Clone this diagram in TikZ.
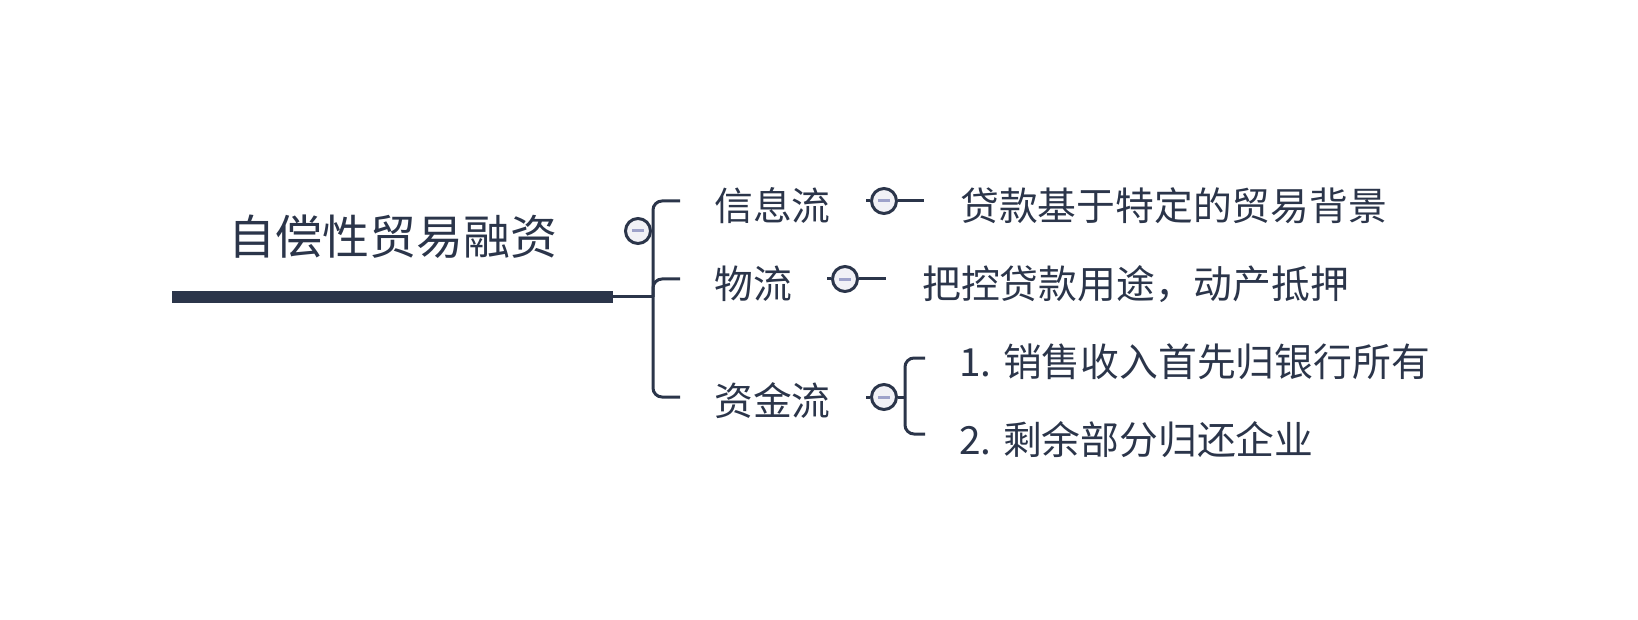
\documentclass[tikz,border=0pt]{standalone}
\usepackage{fontspec}
\newfontfamily\cjk{Noto Sans CJK SC}
\usetikzlibrary{positioning,calc}
\definecolor{MapInk}{HTML}{2B354A}
\definecolor{MapFold}{HTML}{F1F1F6}
\definecolor{MapMinus}{HTML}{9EA2CA}
\newcommand{\foldmark}{{\color{MapMinus}\rule{12pt}{3pt}}}

\tikzset{
  topic/.style={inner sep=0pt, anchor=west, text=MapInk,
    font=\cjk\fontsize{38.8}{42}\selectfont},
  branch/.style={draw=MapInk, line width=3pt, rounded corners=9pt},
  fold/.style={circle, draw=MapInk, line width=3pt, fill=MapFold,
    minimum size=25pt, inner sep=0pt},
}

\begin{document}
\begin{tikzpicture}[x=1pt, y=-1pt]
  \useasboundingbox (0,0) rectangle (1638,620);

  \node[
    inner sep=0pt,
    text=MapInk,
    font=\cjk\fontsize{47}{50}\selectfont
  ] (root) at (393,237) {自偿性贸易融资};
  \node[
    fill=MapInk,
    anchor=west,
    inner sep=0pt,
    minimum width=441pt,
    minimum height=12pt
  ] (bar) at (172,297) {};
  \coordinate (hub) at (653,297);
  \node[fold] (rootfold) at (638,231) {\foldmark};

  \node[topic] (info) at (714,206) {信息流};
  \node[topic] (goods) at (714,284) {物流};
  \node[topic] (fund) at (714,401) {资金流};
  \coordinate (info-in) at (680,201);
  \coordinate (goods-in) at (680,279);
  \coordinate (fund-in) at (680,397);

  \draw[branch] (bar.east) -- (hub);
  \draw[branch] (hub) |- (info-in);
  \draw[branch] (hub) |- (goods-in);
  \draw[branch] (hub) |- (fund-in);

  \node[fold] (infofold) at (884,201) {\foldmark};
  \coordinate (infoleaf-in) at (924,201);
  \node[topic] (infoleaf) at (960,206) {贷款基于特定的贸易背景};
  \draw[branch] (infofold.west) -- ++(-4,0);
  \draw[branch] (infofold.east) -- (infoleaf-in);

  \node[fold] (goodsfold) at (845,279) {\foldmark};
  \coordinate (goodsleaf-in) at (886,279);
  \node[topic] (goodsleaf) at (922,284) {把控贷款用途，动产抵押};
  \draw[branch] (goodsfold.west) -- ++(-4,0);
  \draw[branch] (goodsfold.east) -- (goodsleaf-in);

  \node[fold] (fundfold) at (884,397) {\foldmark};
  \coordinate (fundhub) at (905,397);
  \coordinate (bank-in) at (925,358);
  \coordinate (firm-in) at (925,434);
  \node[topic] (bank) at (959,362) {1. 销售收入首先归银行所有};
  \node[topic] (firm) at (959,440) {2. 剩余部分归还企业};
  \draw[branch] (fundfold.west) -- ++(-4,0);
  \draw[branch] (fundfold.east) -- (fundhub);
  \draw[branch] (fundhub) |- (bank-in);
  \draw[branch] (fundhub) |- (firm-in);
\end{tikzpicture}
\end{document}
